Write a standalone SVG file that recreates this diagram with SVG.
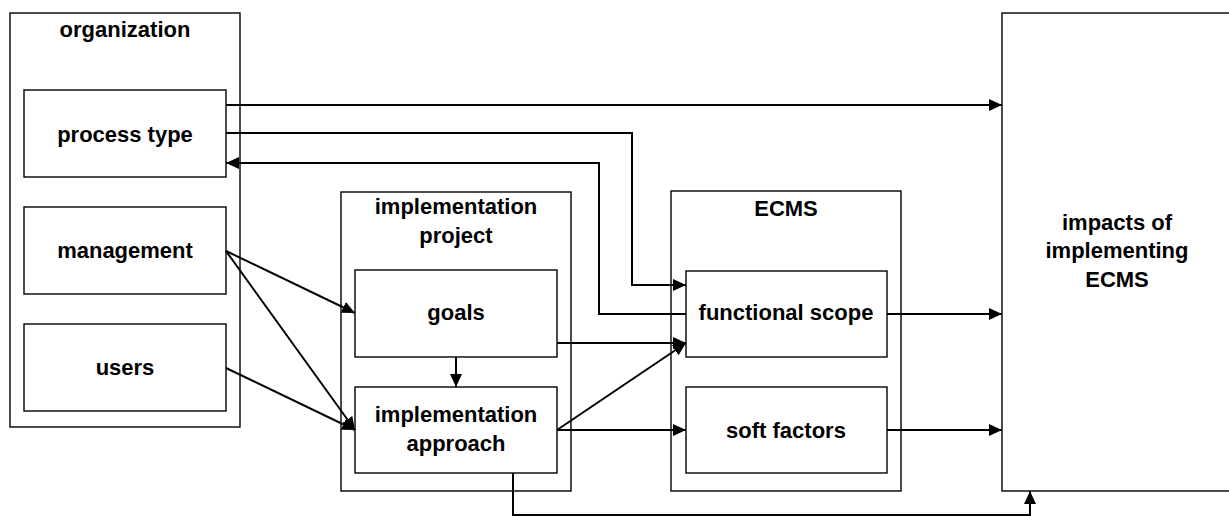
<svg xmlns="http://www.w3.org/2000/svg" width="1229" height="516" viewBox="0 0 1229 516">
  <style>
    .box { fill: #ffffff; stroke: #000000; stroke-width: 1.4; }
    .lbl { font-family: "Liberation Sans", Arial, sans-serif; font-weight: bold; font-size: 22px; fill: #000000; text-anchor: middle; }
    .con { fill: none; stroke: #000000; stroke-width: 2; marker-end: url(#arrow); }
    .plain { fill: none; stroke: #000000; stroke-width: 2; }
  </style>
  <defs>
    <marker id="arrow" markerUnits="userSpaceOnUse" markerWidth="13" markerHeight="12" refX="13" refY="6" orient="auto">
      <path d="M0,0 L13,6 L0,12 z" fill="#000000"/>
    </marker>
  </defs>
  <rect width="1229" height="516" fill="#ffffff"/>

  <!-- containers -->
  <g id="organization">
    <rect class="box" x="10" y="13" width="230" height="414"/>
    <text class="lbl" x="125" y="37">organization</text>
  </g>
  <g id="implementation-project">
    <rect class="box" x="341" y="192" width="230" height="299"/>
    <text class="lbl" x="456" y="214">implementation</text>
    <text class="lbl" x="456" y="243">project</text>
  </g>
  <g id="ecms">
    <rect class="box" x="671" y="191" width="230" height="300"/>
    <text class="lbl" x="786" y="216">ECMS</text>
  </g>
  <g id="impacts">
    <rect class="box" x="1002" y="13" width="240" height="478"/>
    <text class="lbl" x="1117" y="230">impacts of</text>
    <text class="lbl" x="1117" y="258">implementing</text>
    <text class="lbl" x="1117" y="287">ECMS</text>
  </g>

  <!-- inner nodes -->
  <g id="process-type">
    <rect class="box" x="24" y="90" width="202" height="87"/>
    <text class="lbl" x="125" y="142">process type</text>
  </g>
  <g id="management">
    <rect class="box" x="24" y="207" width="202" height="87"/>
    <text class="lbl" x="125" y="258">management</text>
  </g>
  <g id="users">
    <rect class="box" x="24" y="324" width="202" height="87"/>
    <text class="lbl" x="125" y="375">users</text>
  </g>
  <g id="goals">
    <rect class="box" x="355" y="270" width="202" height="87"/>
    <text class="lbl" x="456" y="320">goals</text>
  </g>
  <g id="implementation-approach">
    <rect class="box" x="355" y="387" width="202" height="86"/>
    <text class="lbl" x="456" y="422">implementation</text>
    <text class="lbl" x="456" y="451">approach</text>
  </g>
  <g id="functional-scope">
    <rect class="box" x="686" y="271" width="201" height="86"/>
    <text class="lbl" x="786" y="320">functional scope</text>
  </g>
  <g id="soft-factors">
    <rect class="box" x="686" y="387" width="201" height="86"/>
    <text class="lbl" x="786" y="438">soft factors</text>
  </g>

  <!-- connectors -->
  <g id="connectors">
    <path class="con" d="M226,105 H1002"/>
    <path class="con" d="M226,133 H632 V285 H686"/>
    <path class="con" d="M686,314 H599 V163 H226"/>
    <path class="con" d="M226,251 L355,313"/>
    <path class="con" d="M226,251 L355,430"/>
    <path class="con" d="M226,368 L355,430"/>
    <path class="con" d="M456,357 V387"/>
    <path class="con" d="M557,343 H686"/>
    <path class="con" d="M557,430 L686,343"/>
    <path class="con" d="M557,430 H686"/>
    <path class="con" d="M887,314 H1002"/>
    <path class="con" d="M887,430 H1002"/>
    <path class="con" d="M513,473 V515 H1030 V491"/>
  </g>
</svg>
